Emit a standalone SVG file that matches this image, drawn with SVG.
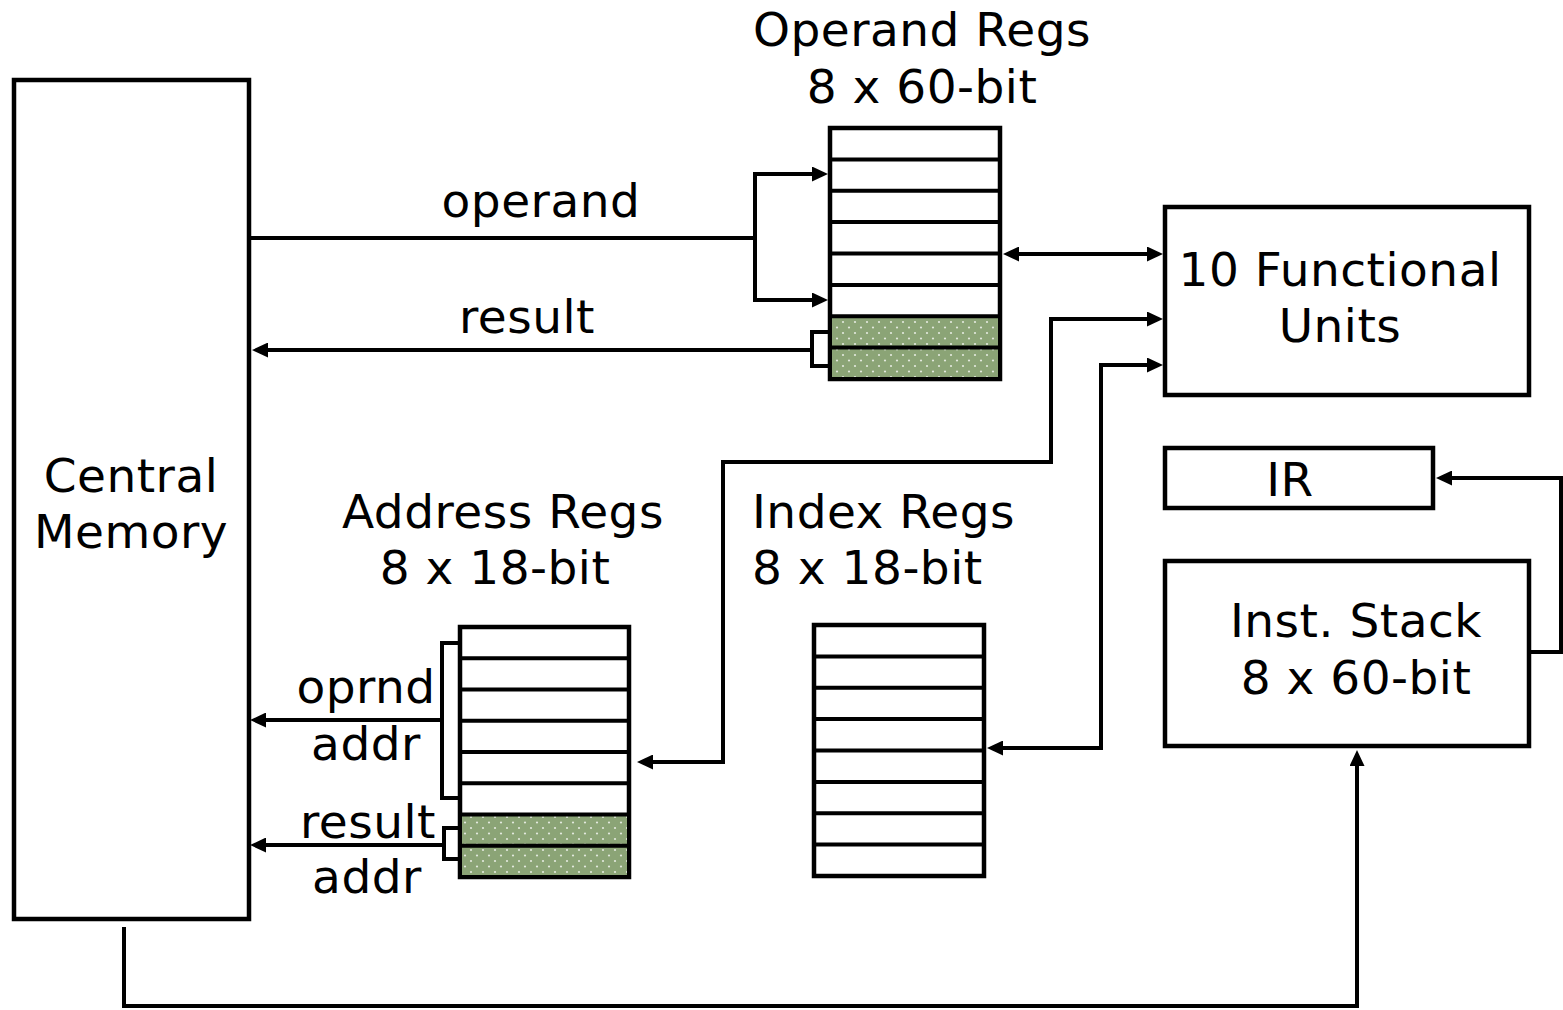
<svg xmlns="http://www.w3.org/2000/svg" width="1563" height="1010" viewBox="0 0 1563 1010">
<defs>
<style>
.box{fill:#fff;stroke:#000;stroke-width:4.5}
.div{stroke:#000;stroke-width:4;fill:none}
.wire{stroke:#000;stroke-width:4;fill:none;stroke-linejoin:miter}
.arr{marker-end:url(#ah)}
.arr2{marker-start:url(#ah);marker-end:url(#ah)}
.t{font-family:"DejaVu Sans","Verdana",sans-serif;font-size:47px;fill:#000;letter-spacing:0.5px}
.c{text-anchor:middle}
.green{fill:url(#dots)}
</style>
<marker id="ah" markerUnits="userSpaceOnUse" markerWidth="16" markerHeight="15" refX="4" refY="7.5" orient="auto-start-reverse" viewBox="0 0 16 15">
<path d="M0,0 L16,7.5 L0,15 z" fill="#000"/>
</marker>
<pattern id="dots" patternUnits="userSpaceOnUse" width="12" height="11">
<rect width="12" height="11" fill="#8BA476"/>
<circle cx="3" cy="3" r="1.1" fill="#fff" fill-opacity="0.75"/>
<circle cx="9" cy="8.5" r="1.1" fill="#fff" fill-opacity="0.75"/>
</pattern>
</defs>
<rect width="1563" height="1010" fill="#fff"/>

<g id="central-memory">
<rect class="box" x="14" y="80" width="235" height="839"/>
<text class="t c" x="131" y="492">Central</text>
<text class="t c" x="131" y="548">Memory</text>
</g>

<g id="operand-regs">
<text class="t c" x="922" y="46">Operand Regs</text>
<text class="t c" x="922" y="103">8 x 60-bit</text>
<rect class="box" x="830" y="128" width="170" height="251"/>
<rect class="green" x="832" y="316" width="166" height="32"/>
<rect class="green" x="832" y="348" width="166" height="29"/>
<path class="div" d="M830,159.4H1000M830,190.8H1000M830,222.1H1000M830,253.5H1000M830,284.9H1000M830,316.3H1000M830,347.6H1000"/>
</g>

<g id="functional-units">
<rect class="box" x="1165" y="207" width="364" height="188"/>
<text class="t c" x="1340" y="286">10 Functional</text>
<text class="t c" x="1340" y="342">Units</text>
</g>

<g id="ir">
<rect class="box" x="1165" y="448" width="268" height="60"/>
<text class="t c" x="1290" y="496">IR</text>
</g>

<g id="inst-stack">
<rect class="box" x="1165" y="561" width="364" height="185"/>
<text class="t c" x="1356" y="637">Inst. Stack</text>
<text class="t c" x="1356" y="694">8 x 60-bit</text>
</g>

<g id="address-regs">
<text class="t c" x="503" y="528">Address Regs</text>
<text class="t c" x="495" y="584">8 x 18-bit</text>
<rect class="box" x="460" y="627" width="169" height="250"/>
<rect class="green" x="462" y="814.5" width="165" height="31.5"/>
<rect class="green" x="462" y="846" width="165" height="29"/>
<path class="div" d="M460,658.3H629M460,689.5H629M460,720.8H629M460,752H629M460,783.3H629M460,814.5H629M460,845.8H629"/>
</g>

<g id="index-regs">
<text class="t" x="752" y="528">Index Regs</text>
<text class="t" x="752" y="584">8 x 18-bit</text>
<rect class="box" x="814" y="625" width="170" height="251"/>
<path class="div" d="M814,656.4H984M814,687.8H984M814,719.1H984M814,750.5H984M814,781.9H984M814,813.3H984M814,844.6H984"/>
</g>

<g id="connectors">
<path class="wire" d="M249,238H755"/>
<path class="wire arr2" d="M816,174H755V300H816"/>
<text class="t c" x="541" y="217">operand</text>

<path class="wire" d="M830,332H812V366H830"/>
<path class="wire arr" d="M812,350H264"/>
<text class="t c" x="527" y="333">result</text>

<path class="wire arr2" d="M1015,254H1151"/>
<path class="wire arr2" d="M649,762H723V462H1051V319H1151"/>
<path class="wire arr2" d="M999,748H1101V365H1151"/>

<path class="wire arr" d="M1531,652H1561V478H1448"/>
<path class="wire arr" d="M124,927V1006H1357V762"/>

<path class="wire" d="M460,643H442V798H460"/>
<path class="wire arr" d="M442,720H262"/>
<text class="t c" x="366" y="703">oprnd</text>
<text class="t c" x="366" y="760">addr</text>

<path class="wire" d="M460,828H444V859H460"/>
<path class="wire arr" d="M444,845H262"/>
<text class="t c" x="368" y="838">result</text>
<text class="t c" x="367" y="893">addr</text>
</g>
</svg>
